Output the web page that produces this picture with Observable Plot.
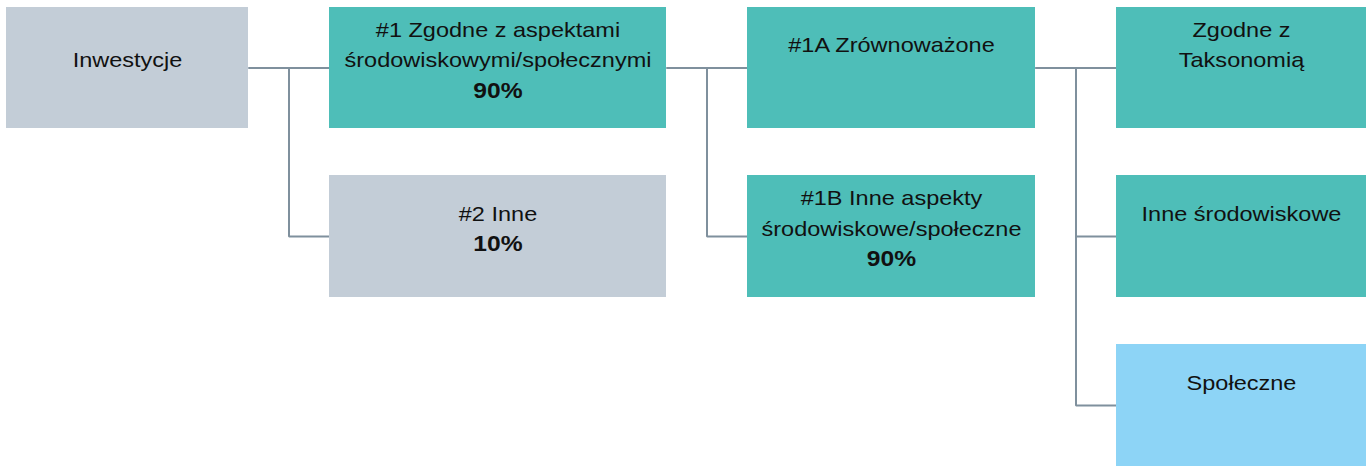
<!DOCTYPE html>
<html>
<head>
<meta charset="utf-8">
<script src="https://cdn.jsdelivr.net/npm/d3@7"></script>
<script src="https://cdn.jsdelivr.net/npm/@observablehq/plot@0.6"></script>
<style>
  html, body { margin: 0; padding: 0; background: #fff; }
  #chart svg { display: block; font-family: "Liberation Sans", Arial, sans-serif; }
</style>
</head>
<body>
<div id="chart"></div>
<script>
// ---- data ----
const nodeIds   = ["inw", "n1", "n2", "n1a", "n1b", "tax", "env", "soc"];
const labels    = [
  "Inwestycje",
  "#1 Zgodne z aspektami\nśrodowiskowymi/społecznymi",
  "#2 Inne",
  "#1A Zrównoważone",
  "#1B Inne aspekty\nśrodowiskowe/społeczne",
  "Zgodne z\nTaksonomią",
  "Inne środowiskowe",
  "Społeczne"
];
const shares    = ["", "90%", "10%", "", "90%", "", "", ""];
const parents   = [null, "inw", "inw", "n1", "n1", "n1a", "n1a", "n1a"];
const columns   = [0, 1, 1, 2, 2, 3, 3, 3];
const rows      = [0, 0, 1, 0, 1, 0, 1, 2];
const categories = ["other", "esg", "other", "esg", "esg", "esg", "esg", "social"];
const padLines  = [0, 0, 0, 1, 0, 1, 1, 1];

// ---- layout (diagram geometry, in pixel-like data units) ----
const colLeft   = [6, 329, 747, 1116];
const colRight  = [248, 666, 1035, 1366];
const rowTop    = [7, 175, 344];
const rowBottom = [128, 297, 466];

const nodes = nodeIds.map((id, i) => {
  const labelLines = labels[i].split("\n").length;
  return {
    id,
    x1: colLeft[columns[i]], x2: colRight[columns[i]],
    y1: rowTop[rows[i]], y2: rowBottom[rows[i]],
    cx: (colLeft[columns[i]] + colRight[columns[i]]) / 2,
    cy: (rowTop[rows[i]] + rowBottom[rows[i]]) / 2,
    category: categories[i],
    labelText: labels[i] + (shares[i] ? "\n" : "") + "\n".repeat(padLines[i]),
    shareText: shares[i] ? "\n".repeat(labelLines) + shares[i] + "\n".repeat(padLines[i]) : null
  };
});
const byId = new Map(nodes.map(d => [d.id, d]));
const links = nodes.filter((d, i) => parents[i]).map((d) => {
  const p = byId.get(parents[nodeIds.indexOf(d.id)]);
  return {x1: p.x2, y1: p.cy, x2: d.x1, y2: d.cy};
});

const W = 1372, H = 466;
const fontSize = 21, lineHeight = 1.45;
const fontFamily = "Liberation Sans, Arial, sans-serif";

const chart = Plot.plot({
  width: W,
  height: H,
  margin: 0,
  x: {domain: [0, W], range: [0, W], axis: null},
  y: {domain: [0, H], range: [0, H], axis: null},
  color: {
    domain: ["other", "esg", "social"],
    range: ["#C3CDD7", "#4EBEB8", "#8DD4F6"]
  },
  marks: [
    Plot.link(links, {
      x1: "x1", y1: "y1", x2: "x2", y2: "y2",
      curve: "step", stroke: "#7F909D", strokeWidth: 2
    }),
    Plot.rect(nodes, {x1: "x1", x2: "x2", y1: "y1", y2: "y2", fill: "category"}),
    Plot.text(nodes, {
      x: "cx", y: "cy", text: "labelText", fontFamily,
      fontSize, lineHeight, fill: "#111", dy: -10.5
    }),
    Plot.text(nodes.filter(d => d.shareText), {
      x: "cx", y: "cy", text: "shareText", fontFamily,
      fontSize: 22, lineHeight: 1.385, fill: "#111", fontWeight: "bold", dy: -10.5
    })
  ]
});

chart.querySelectorAll('g[aria-label="text"] text').forEach(t => {
  const tr = t.getAttribute("transform") || "";
  t.setAttribute("transform", tr + " scale(1.12,1)");
});

document.getElementById("chart").appendChild(chart);
</script>
</body>
</html>
